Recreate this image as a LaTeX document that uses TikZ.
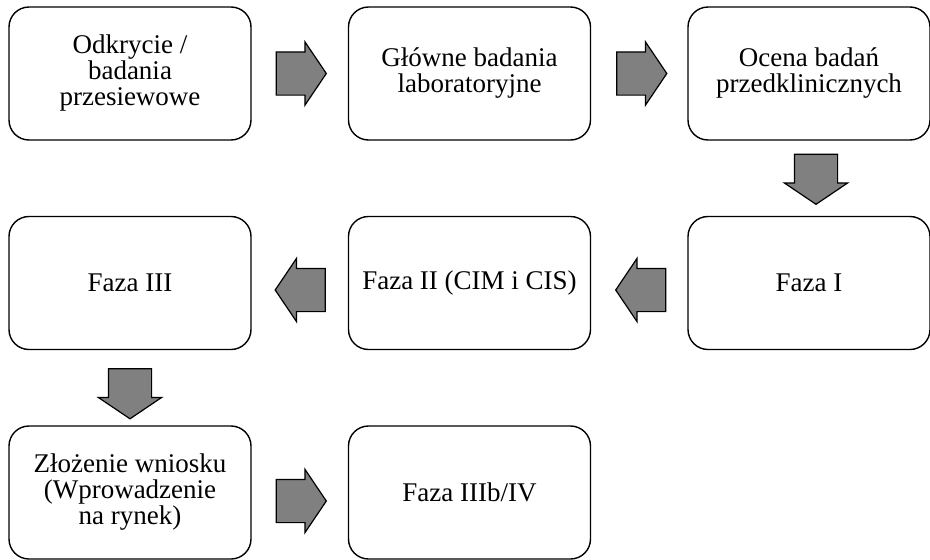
\documentclass[tikz,border=0pt]{standalone}
\usepackage{fontspec}
\setmainfont{Liberation Serif}
\usetikzlibrary{positioning, shapes.arrows, calc}
\tikzset{
  stage/.style = {draw, rounded corners = 20pt, line width = 1.4pt,
    minimum width = 242pt, minimum height = 133pt, inner sep = 0pt,
    align = center, font = \fontsize{27}{26}\selectfont},
  flow/.style = {single arrow, draw, fill = gray, line width = 1.2pt,
    minimum height = 50pt, inner xsep = 0pt, inner ysep = 21pt,
    single arrow head extend = 10pt, single arrow tip angle = 112,
    anchor = tail}
}

\begin{document}
\begin{tikzpicture}[on grid, node distance = 209.5pt and 339.5pt]
		\useasboundingbox (0,0) rectangle (930pt,-560pt);
		\node (odkr) [stage] at (130pt,-73.5pt) {Odkrycie /\\badania\\przesiewowe};
		\node (lab) [stage, right = of odkr] {Główne badania\\laboratoryjne};
		\node (ocena) [stage, right = of lab] {Ocena badań\\przedklinicznych};
		\node (f1) [stage, below = of ocena] {Faza I};
		\node (f2) [stage, left = of f1] {Faza II (CIM i CIS)};
		\node (f3) [stage, left = of f2] {Faza III};
		\node (wn) [stage, below = of f3] {Złożenie wniosku\\(Wprowadzenie\\na rynek)};
		\node (f4) [stage, right = of wn] {Faza IIIb/IV};
		% block arrows, tail a little away from the box
		\node (a1) [flow] at ($(odkr.east) + (24pt,0)$) {};
		\node (a2) [flow] at ($(lab.east) + (25pt,0)$) {};
		\node (a3) [flow, rotate = -90] at ($(ocena.south) + (7pt,-13pt)$) {};
		\node (a4) [flow, rotate = 180] at ($(f1.west) + (-21pt,-7pt)$) {};
		\node (a5) [flow, rotate = 180] at ($(f2.west) + (-22pt,-7pt)$) {};
		\node (a6) [flow, rotate = -90] at ($(f3.south) + (0,-18pt)$) {};
		\node (a7) [flow] at ($(wn.east) + (24pt,-8.5pt)$) {};
		\end{tikzpicture}
\end{document}
